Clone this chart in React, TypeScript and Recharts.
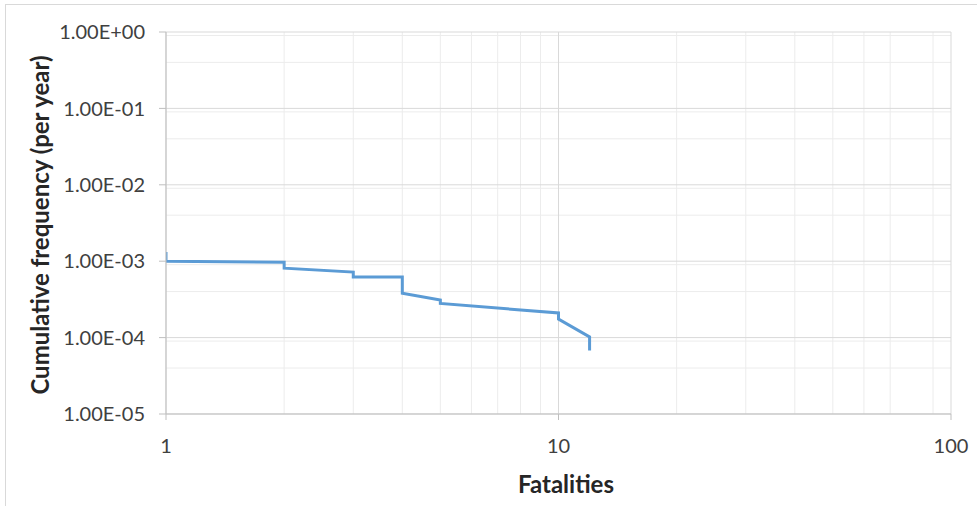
import React from 'react';
import { LineChart, Line, XAxis, YAxis, CartesianGrid } from 'recharts';

const fatalities = [1, 1, 2, 2, 3, 3, 4, 4, 5, 5, 10, 10, 12, 12];
const frequency = [1.32e-3, 1.0e-3, 0.97e-3, 0.81e-3, 0.72e-3, 0.62e-3, 0.62e-3, 0.38e-3, 0.31e-3, 0.28e-3, 0.21e-3, 0.175e-3, 1.02e-4, 0.68e-4];

const xMajorTicks = [1, 10, 100];
const yMajorTicks = [1e-5, 1e-4, 1e-3, 1e-2, 1e-1, 1];
const multipliers = [2, 3, 4, 5, 6, 7, 8, 9];

const xMinor: number[] = [];
[1, 10].forEach((d) => multipliers.forEach((m) => xMinor.push(d * m)));
const yMinor: number[] = [];
[1e-5, 1e-4, 1e-3, 1e-2, 1e-1].forEach((d) => multipliers.forEach((m) => yMinor.push(d * m)));

const data = fatalities.map((x, i) => ({ x, y: frequency[i] }));

const fmtExp = (v: number) => {
  const e = Math.round(Math.log10(v));
  const sign = e < 0 ? '-' : '+';
  const abs = Math.abs(e);
  return '1.00E' + sign + (abs < 10 ? '0' + abs : String(abs));
};

const FONT = 'Lato, "Open Sans", sans-serif';

export default function App() {
  return (
    <div style={{ position: 'absolute', left: 0, top: 0, width: 977, height: 506, background: '#fff', fontFamily: FONT, overflow: 'hidden' }}>
      <div style={{ position: 'absolute', left: 5, top: 4, width: 975, height: 510, border: '1.5px solid #d9d9d9', boxSizing: 'border-box' }} />
      <LineChart width={977} height={506} data={data} margin={{ top: 32, right: 26, bottom: 32, left: 0 }}>
        <CartesianGrid stroke="#ececec" strokeWidth={1} verticalValues={xMinor} horizontalValues={yMinor} />
        <CartesianGrid stroke="#d9d9d9" strokeWidth={1} verticalValues={xMajorTicks} horizontalValues={yMajorTicks} />
        <XAxis
          dataKey="x"
          type="number"
          scale="log"
          domain={[1, 100]}
          ticks={xMajorTicks}
          allowDataOverflow
          height={60}
          stroke="#bfbfbf"
          tickSize={6}
          tickMargin={19}
          tick={{ fill: '#404040', fontSize: 20, fontFamily: FONT }}
        />
        <YAxis
          type="number"
          scale="log"
          domain={[1e-5, 1]}
          ticks={yMajorTicks}
          allowDataOverflow
          width={166}
          stroke="#bfbfbf"
          tickSize={7}
          tickMargin={14}
          tickFormatter={fmtExp}
          tick={{ fill: '#404040', fontSize: 20, fontFamily: FONT }}
        />
        <Line
          dataKey="y"
          type="linear"
          stroke="#5b9bd5"
          strokeWidth={3}
          dot={false}
          isAnimationActive={false}
        />
      </LineChart>
      <div style={{ position: 'absolute', left: 566, top: 483, transform: 'translate(-50%, -50%)', fontWeight: 700, fontSize: 24, color: '#262626', whiteSpace: 'nowrap' }}>
        Fatalities
      </div>
      <div style={{ position: 'absolute', left: 39, top: 225, transform: 'translate(-50%, -50%) rotate(-90deg)', fontWeight: 700, fontSize: 24, color: '#262626', whiteSpace: 'nowrap' }}>
        Cumulative frequency (per year)
      </div>
    </div>
  );
}
